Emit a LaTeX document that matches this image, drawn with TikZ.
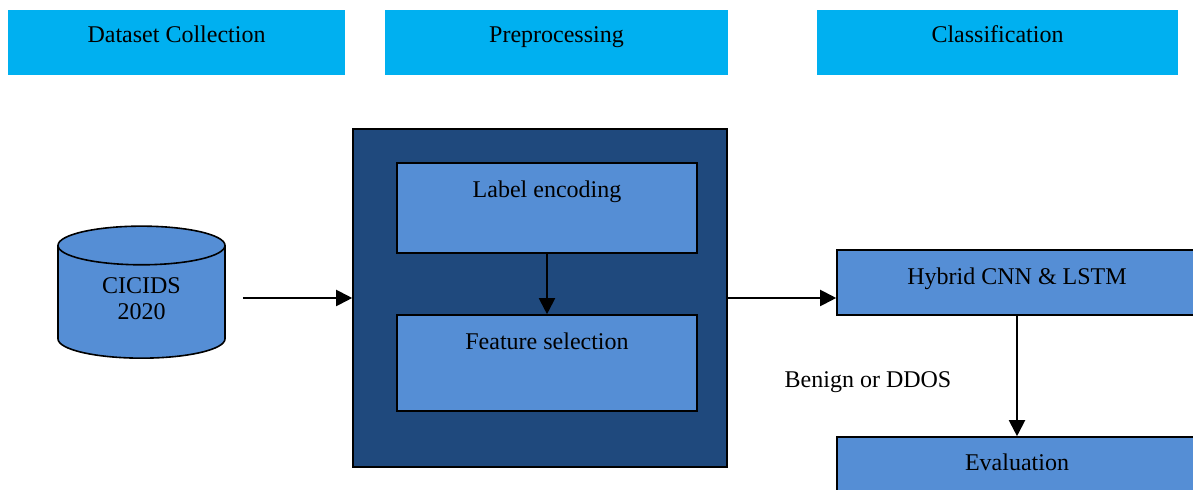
\documentclass[tikz,border=0pt]{standalone}
\usepackage{fontspec}
\setmainfont{Liberation Serif}
\usepackage{tikz}
\usetikzlibrary{arrows.meta,shapes.geometric}

\definecolor{headblue}{HTML}{00B0F0}
\definecolor{darkblue}{HTML}{1F497D}
\definecolor{boxblue}{HTML}{558ED5}

\tikzset{
  head/.style={fill=headblue,inner sep=0pt,minimum height=32.5pt,text height=8pt,text depth=8pt},
  stage/.style={draw,line width=0.8pt,fill=boxblue,inner sep=0pt},
  flow/.style={-{Triangle[length=8pt,width=8pt]},line width=1pt},
}

\begin{document}
\begin{tikzpicture}[x=0.5pt,y=-0.5pt,font=\fontsize{12}{13}\selectfont]

\useasboundingbox (0,0) rectangle (1193,490);

\node[head,minimum width=168.5pt] (H1) at (176.5,42.5) {Dataset Collection};
\node[head,minimum width=171.5pt] (H2) at (556.5,42.5) {Preprocessing};
\node[head,minimum width=180.5pt] (H3) at (997.5,42.5) {Classification};

\node[cylinder,shape border rotate=90,aspect=0.42,draw,line width=0.8pt,fill=boxblue,
      minimum width=83.5pt,minimum height=66pt] (DB) at (141.5,306)
      {\raisebox{2.5pt}[\height][\depth]{\begin{tabular}{@{}c@{}}CICIDS\\2020\end{tabular}}};

\node[draw,line width=0.8pt,fill=darkblue,minimum width=187pt,minimum height=169pt] (P) at (540,298) {};
\node[stage,minimum width=150pt,minimum height=45pt,text height=8pt,text depth=18.7pt] (LE) at (547,208) {Label encoding};
\node[stage,minimum width=150pt,minimum height=48pt,text height=8pt,text depth=21.7pt] (FS) at (547,363) {Feature selection};

\node[stage,minimum width=180pt,minimum height=32.5pt,text height=8pt,text depth=6.3pt] (HY) at (1017,282.5) {Hybrid CNN \& LSTM};
\node[stage,minimum width=180pt,minimum height=32.5pt,text height=8pt,text depth=6.5pt] (EV) at (1017,469.5) {Evaluation};
\node[anchor=base] (R) at (868,388) {Benign or DDOS};

\path[flow]
	(LE) edge (FS)
	(HY) edge (EV);
\draw[flow,shorten <=8.5pt] (P.west -| DB.east) -- (P.west);
\draw[flow] (P.east) -- (P.east -| HY.west);

\end{tikzpicture}
\end{document}
